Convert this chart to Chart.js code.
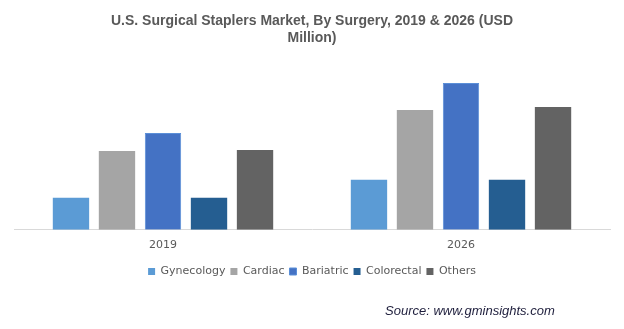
<!DOCTYPE html>
<html>
<head>
<meta charset="utf-8">
<script src="https://cdn.jsdelivr.net/npm/chart.js@4.4.1/dist/chart.umd.min.js"></script>
<style>
  html, body { margin: 0; padding: 0; background: #fff; }
  #wrap { position: relative; width: 624px; height: 329px; }
  #source {
    position: absolute; left: 385px; top: 303px;
    font: italic 13px 'Liberation Sans', Arial, sans-serif;
    color: #1e1e3c; white-space: nowrap;
  }
</style>
</head>
<body>
<div id="wrap">
  <canvas id="chart" width="624" height="329"></canvas>
  <div id="source">Source: www.gminsights.com</div>
</div>
<script>
// --- données ---
const years = ['2019', '2026'];
const gynecology = [32, 50];
const cardiac = [79, 120];
const bariatric = [97, 147];
const colorectal = [32, 50];
const others = [80, 123];
const titleLines = ['U.S. Surgical Staplers Market, By Surgery, 2019 & 2026 (USD', 'Million)'];

document.addEventListener('DOMContentLoaded', () => {
    const ctx = document.getElementById('chart').getContext('2d');

    function serie(label, data, color, border) {
        return {
            label: label,
            data: data,
            backgroundColor: color,
            borderColor: border || color,
            borderWidth: border ? 1 : 0,
            barPercentage: 0.79,
            categoryPercentage: 0.772
        };
    }

    new Chart(ctx, {
        type: 'bar',
        data: {
            labels: years,
            datasets: [
                serie('Gynecology', gynecology, '#5b9bd5'),
                serie('Cardiac', cardiac, '#a5a5a5'),
                serie('Bariatric', bariatric, '#4472c4', '#5b8fd8'),
                serie('Colorectal', colorectal, '#255e91'),
                serie('Others', others, '#636363')
            ]
        },
        options: {
            responsive: false,
            animation: false,
            layout: { padding: { left: 14, right: 14, top: 0, bottom: 42 } },
            plugins: {
                title: {
                    display: true,
                    text: titleLines,
                    color: '#595959',
                    font: { family: "'Liberation Sans', Arial, sans-serif", size: 14, weight: 'bold', lineHeight: 1.25 },
                    padding: { top: 12, bottom: 23 }
                },
                legend: {
                    position: 'bottom',
                    labels: {
                        boxWidth: 7,
                        boxHeight: 7,
                        padding: 5,
                        color: '#595959',
                        font: { family: "'DejaVu Sans', sans-serif", size: 11 }
                    }
                },
                tooltip: { enabled: false }
            },
            scales: {
                x: {
                    grid: { display: false, drawTicks: false },
                    border: { color: '#d9d9d9', width: 1 },
                    ticks: {
                        color: '#595959',
                        padding: 9,
                        font: { family: "'DejaVu Sans', sans-serif", size: 11 }
                    }
                },
                y: {
                    display: false,
                    min: 0,
                    max: 160
                }
            }
        }
    });
});
</script>
</body>
</html>
